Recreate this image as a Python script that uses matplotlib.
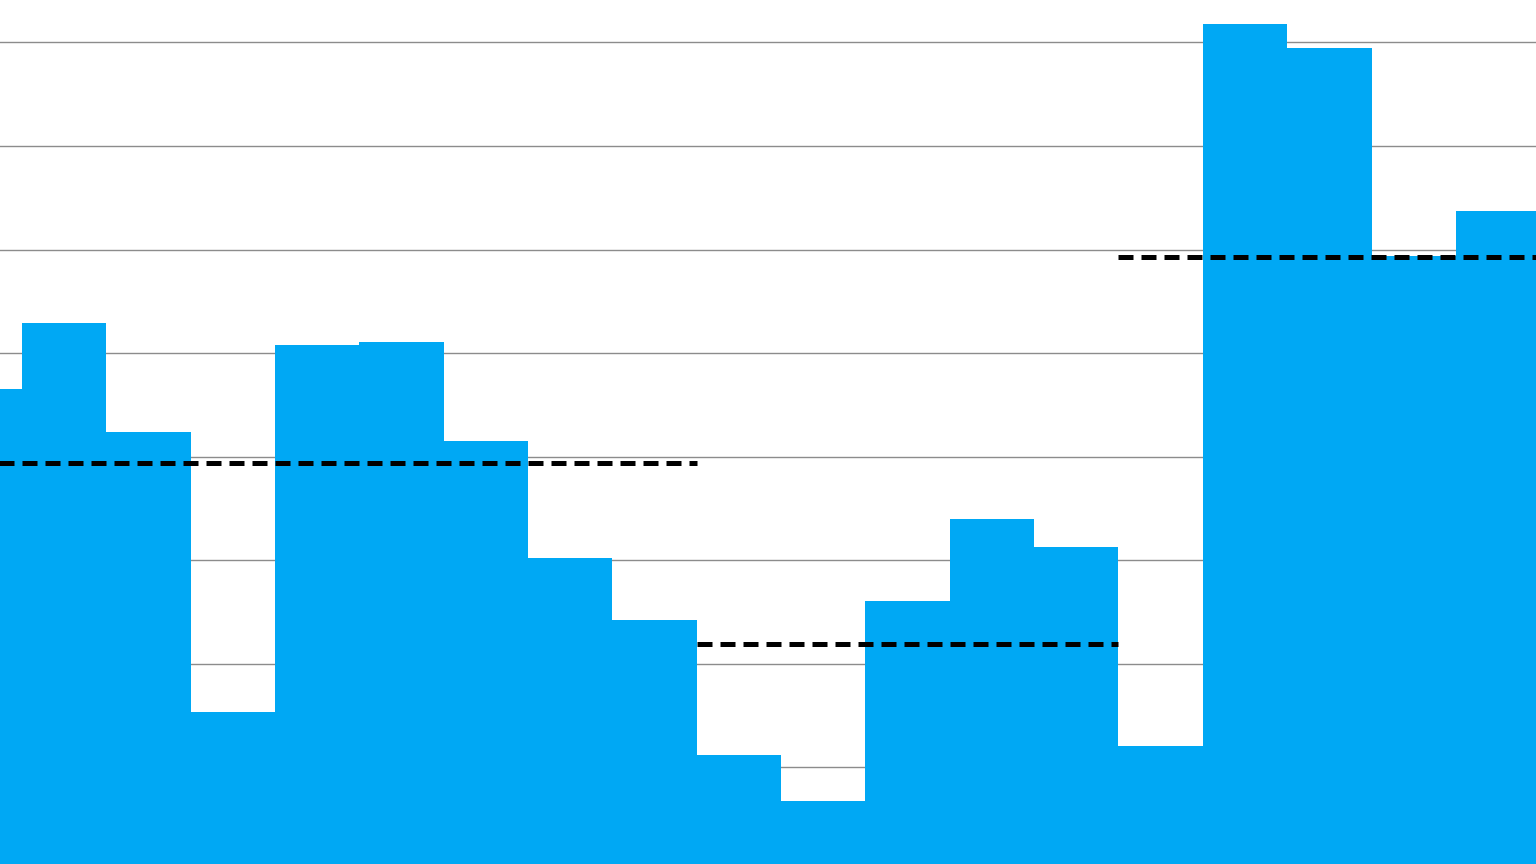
import numpy as np
import matplotlib
matplotlib.use("Agg")
import matplotlib.pyplot as plt

# bar heights (gridline step = 10)
values = [46.5, 52.9, 42.4, 15.4, 50.8, 51.1, 41.5, 30.2, 24.2,
          11.2, 6.8, 26.1, 34.0, 31.3,
          12.1, 81.8, 79.5, 59.4, 63.7]
# groups for the dashed average lines (first, last bar index)
groups = [(0, 8), (9, 13), (14, 18)]

bar_color = "#00A8F4"
grid_color = "#8c8c8c"


def main():
    fig = plt.figure(figsize=(15.36, 8.64), dpi=100)
    ax = fig.add_axes([0, 0, 1, 1])

    x = np.arange(len(values))
    ax.bar(x, values, width=1.0, color=bar_color, zorder=2, linewidth=0)

    for g0, g1 in groups:
        avg = np.mean(values[g0:g1 + 1])
        line, = ax.plot([g0 - 0.5, g1 + 0.5], [avg, avg], color="black",
                        lw=3.6, zorder=3)
        line.set_dashes((3, 1.6))

    for gy in range(10, 90, 10):
        ax.axhline(gy, color=grid_color, lw=1, zorder=1)

    ax.set_xlim(0.239, 18.45)
    ax.set_ylim(0.68, 84.1)
    ax.axis("off")

    fig.savefig("out.png", dpi=100)


if __name__ == "__main__":
    main()
